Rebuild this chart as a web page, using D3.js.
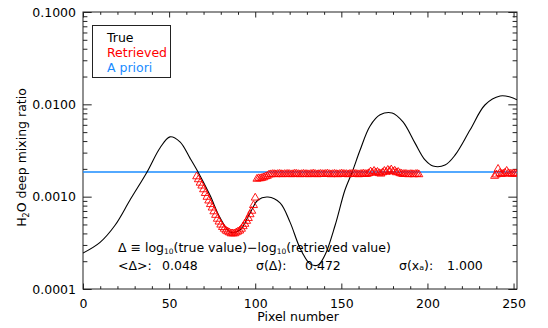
<!DOCTYPE html>
<html><head><meta charset="utf-8">
<script src="https://cdn.jsdelivr.net/npm/d3@7"></script>
<style>
body{margin:0;background:#fff}
svg{display:block}
text{font-family:"DejaVu Sans",sans-serif;}
</style>
</head><body>
<svg id="c" width="548" height="328"></svg>
<script>
// ---------------- data ----------------
const xDomain = [0, 252];
const yDomain = [0.0001, 0.1];
const xMajorTicks = [0, 50, 100, 150, 200, 250];
const xMinorTicks = [10,20,30,40,60,70,80,90,110,120,130,140,160,170,180,190,210,220,230,240];
const yMajorTicks = [0.1, 0.01, 0.001, 0.0001];
const yTickLabels = ["0.1000", "0.0100", "0.0010", "0.0001"];

// "True" profile (pixel number, mixing ratio)
const trueX = [0,9.9,18.6,27.3,37.2,44.7,50.5,56.3,62.2,66.8,73.7,79.6,85.4,91.1,97.0,101.6,107.4,114.4,120.2,126.0,131.9,136.5,140.5,146.4,152.1,156.3,160.9,166.6,172.5,179.5,185.8,192.8,198.6,203.2,210.2,216.1,224.8,233.5,242.2,248.0,252];
const trueVal = [2.45e-4,3.2e-4,4.9e-4,9.2e-4,1.85e-3,3.37e-3,4.44e-3,3.92e-3,2.6e-3,1.85e-3,1.04e-3,5.9e-4,4.15e-4,4.36e-4,6.65e-4,9.2e-4,9.9e-4,8.55e-4,5.3e-4,2.78e-4,1.87e-4,1.82e-4,2.33e-4,4.9e-4,1.18e-3,1.85e-3,3.2e-3,5.8e-3,7.7e-3,8.07e-3,6.45e-3,3.8e-3,2.5e-3,2.15e-3,2.2e-3,2.83e-3,5.3e-3,9.9e-3,1.23e-2,1.2e-2,1.12e-2];

// "Retrieved" values, one per pixel, in three runs (first pixel of each run)
const ret1Start = 66;
const ret1Val = [1.70e-3,1.58e-3,1.45e-3,1.35e-3,1.23e-3,1.12e-3,1.02e-3,9.3e-4,8.5e-4,7.8e-4,7.1e-4,6.5e-4,5.9e-4,5.5e-4,5.1e-4,4.8e-4,4.6e-4,4.4e-4,4.3e-4,4.2e-4,4.1e-4,4.1e-4,4.1e-4,4.2e-4,4.3e-4,4.4e-4,4.6e-4,4.9e-4,5.2e-4,5.6e-4,6.0e-4,6.6e-4,7.2e-4,8.3e-4,1.0e-3];
const ret2Start = 101;
const ret2Val = [1.60e-3,1.62e-3,1.62e-3,1.64e-3,1.66e-3,1.70e-3,1.72e-3,1.78e-3,1.79e-3,1.80e-3,1.80e-3,
  1.79e-3,1.80e-3,1.81e-3,1.80e-3,1.79e-3,1.80e-3,1.80e-3,1.81e-3,1.80e-3,1.79e-3,
  1.80e-3,1.82e-3,1.81e-3,1.80e-3,1.79e-3,1.80e-3,1.81e-3,1.80e-3,1.80e-3,1.79e-3,
  1.80e-3,1.81e-3,1.82e-3,1.80e-3,1.79e-3,1.80e-3,1.81e-3,1.80e-3,1.80e-3,1.81e-3,
  1.82e-3,1.80e-3,1.79e-3,1.80e-3,1.81e-3,1.80e-3,1.79e-3,1.80e-3,1.82e-3,1.81e-3,
  1.80e-3,1.80e-3,1.79e-3,1.81e-3,1.80e-3,1.82e-3,1.81e-3,1.80e-3,1.79e-3,1.80e-3,
  1.81e-3,1.82e-3,1.80e-3,1.81e-3,1.84e-3,1.92e-3,1.86e-3,1.95e-3,1.88e-3,1.90e-3,
  1.84e-3,1.82e-3,1.88e-3,1.95e-3,1.90e-3,2.00e-3,1.94e-3,2.02e-3,1.92e-3,1.96e-3,
  1.88e-3,1.90e-3,1.84e-3,1.82e-3,1.80e-3,1.81e-3,1.80e-3,1.79e-3,1.80e-3,1.80e-3,1.79e-3,
  1.80e-3,1.81e-3,1.79e-3];
const ret3Start = 239;
const ret3Val = [1.72e-3,1.78e-3,2.05e-3,1.85e-3,1.80e-3,1.82e-3,1.86e-3,1.95e-3,1.84e-3,1.82e-3,1.81e-3,1.82e-3,1.83e-3,1.82e-3];

const aprioriVal = 0.00185;

const legendItems = ["True", "Retrieved", "A priori"];
const legendColors = ["#000000", "#ff0000", "#1a8cff"];
const stats = [["<Δ>:", "0.048"], ["σ(Δ):", "0.472"], ["σ(xₐ):", "1.000"]];

// ---------------- layout ----------------
const M = {left: 83, right: 517, top: 12, bottom: 289};
const svg = d3.select("#c");
const x = d3.scaleLinear().domain(xDomain).range([M.left, M.right]);
const y = d3.scaleLog().domain(yDomain).range([M.bottom, M.top]);
const axisColor = "#222";

svg.append("rect").attr("x", M.left).attr("y", M.top)
  .attr("width", M.right - M.left).attr("height", M.bottom - M.top)
  .attr("fill", "none").attr("stroke", axisColor).attr("stroke-width", 1);

const xLenMaj = 5.5, xLenMin = 2.8, yLenMaj = 8.7, yLenMin = 4.4;
function styleAxis(g){ g.select(".domain").remove(); g.selectAll("line").attr("stroke", axisColor); }

svg.append("g").attr("transform", `translate(0,${M.bottom})`)
  .call(d3.axisBottom(x).tickValues(xMajorTicks).tickSize(-xLenMaj).tickPadding(10).tickFormat(d3.format("d")))
  .call(styleAxis)
  .call(g => g.selectAll("text").attr("fill", "#000").attr("font-size", 12.5).attr("dy", "0.71em"));
svg.append("g").attr("transform", `translate(0,${M.bottom})`)
  .call(d3.axisBottom(x).tickValues(xMinorTicks).tickSize(-xLenMin).tickFormat("")).call(styleAxis);
svg.append("g").attr("transform", `translate(0,${M.top})`)
  .call(d3.axisTop(x).tickValues(xMajorTicks).tickSize(-xLenMaj).tickFormat("")).call(styleAxis);
svg.append("g").attr("transform", `translate(0,${M.top})`)
  .call(d3.axisTop(x).tickValues(xMinorTicks).tickSize(-xLenMin).tickFormat("")).call(styleAxis);

const yMinor = [];
[0.0001, 0.001, 0.01].forEach(d => { for (let k = 2; k <= 9; k++) yMinor.push(d * k); });
svg.append("g").attr("transform", `translate(${M.left},0)`)
  .call(d3.axisLeft(y).tickValues(yMajorTicks).tickSize(-yLenMaj).tickPadding(7)
    .tickFormat((d, i) => yTickLabels[i]))
  .call(styleAxis)
  .call(g => g.selectAll("text").attr("fill", "#000").attr("font-size", 12.5));
svg.append("g").attr("transform", `translate(${M.left},0)`)
  .call(d3.axisLeft(y).tickValues(yMinor).tickSize(-yLenMin).tickFormat("")).call(styleAxis);
svg.append("g").attr("transform", `translate(${M.right},0)`)
  .call(d3.axisRight(y).tickValues(yMajorTicks).tickSize(-yLenMaj).tickFormat("")).call(styleAxis);
svg.append("g").attr("transform", `translate(${M.right},0)`)
  .call(d3.axisRight(y).tickValues(yMinor).tickSize(-yLenMin).tickFormat("")).call(styleAxis);

svg.append("text").attr("x", (M.left + M.right) / 2 - 2).attr("y", 321)
  .attr("text-anchor", "middle").attr("font-size", 12.5).text("Pixel number");
const yt = svg.append("text").attr("transform", `translate(26,${(M.top + M.bottom) / 2 + 7}) rotate(-90)`)
  .attr("text-anchor", "middle").attr("font-size", 12.5);
yt.append("tspan").text("H");
yt.append("tspan").attr("font-size", 8).attr("dy", 3).text("2");
yt.append("tspan").attr("dy", -3).text("O deep mixing ratio");

svg.append("clipPath").attr("id", "clip").append("rect")
  .attr("x", M.left).attr("y", M.top).attr("width", M.right - M.left).attr("height", M.bottom - M.top);
const plot = svg.append("g").attr("clip-path", "url(#clip)");

plot.append("line").attr("x1", x(xDomain[0])).attr("x2", x(xDomain[1]))
  .attr("y1", y(aprioriVal)).attr("y2", y(aprioriVal))
  .attr("stroke", legendColors[2]).attr("stroke-width", 1.3);

const truePts = trueX.map((d, i) => [d, trueVal[i]]);
plot.append("path").datum(truePts)
  .attr("d", d3.line().x(d => x(d[0])).y(d => y(d[1])).curve(d3.curveCatmullRom.alpha(0.5)))
  .attr("fill", "none").attr("stroke", "#000").attr("stroke-width", 1.1);

const triType = { draw(ctx, size) { const h = 3.4, w = 4; ctx.moveTo(0, -h); ctx.lineTo(w, h); ctx.lineTo(-w, h); ctx.closePath(); } };
const retPts = [];
[[ret1Start, ret1Val], [ret2Start, ret2Val], [ret3Start, ret3Val]].forEach(([s, vals]) =>
  vals.forEach((v, i) => retPts.push([s + i, v])));
plot.append("g").selectAll("path").data(retPts).join("path")
  .attr("transform", d => `translate(${x(d[0])},${y(d[1])})`)
  .attr("d", d3.symbol().type(triType)())
  .attr("fill", "none").attr("stroke", "#ff0000").attr("stroke-width", 0.9);

const lg = svg.append("g");
lg.append("rect").attr("x", 92.5).attr("y", 25.5).attr("width", 78).attr("height", 52)
  .attr("fill", "#fff").attr("stroke", axisColor);
legendItems.forEach((t, i) => {
  lg.append("text").attr("x", 107).attr("y", 42 + i * 15).attr("font-size", 12.5)
    .attr("fill", legendColors[i]).text(t);
});

const a1 = svg.append("text").attr("x", 118).attr("y", 252).attr("font-size", 12.5);
a1.append("tspan").text("Δ ≡ log");
a1.append("tspan").attr("font-size", 7.5).attr("dy", 2).text("10");
a1.append("tspan").attr("dy", -2).text("(true value)−log");
a1.append("tspan").attr("font-size", 7.5).attr("dy", 2).text("10");
a1.append("tspan").attr("dy", -2).text("(retrieved value)");

const statX = [118, 256, 399];
const valX = [162, 305, 447];
stats.forEach((s, i) => {
  svg.append("text").attr("x", statX[i]).attr("y", 270).attr("font-size", 12.5).text(s[0]);
  svg.append("text").attr("x", valX[i]).attr("y", 270).attr("font-size", 12.5).text(s[1]);
});
</script>
</body></html>
